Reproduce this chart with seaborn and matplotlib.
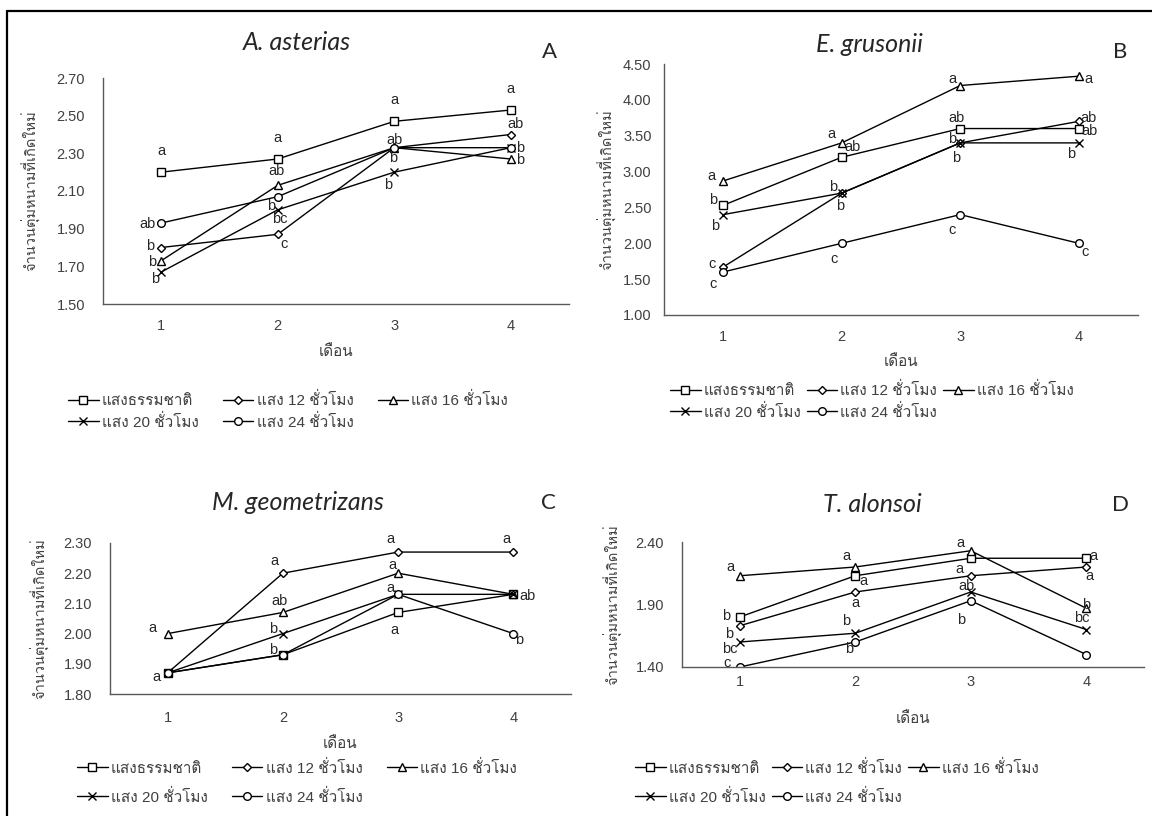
import matplotlib
matplotlib.use('Agg')
import matplotlib.pyplot as plt
from matplotlib import font_manager
from matplotlib.ft2font import FT2Font
from matplotlib.lines import Line2D
import pandas as pd
import seaborn as sns

months = [1, 2, 3, 4]
treatments = ['แสงธรรมชาติ', 'แสง 12 ชั่วโมง', 'แสง 16 ชั่วโมง', 'แสง 20 ชั่วโมง', 'แสง 24 ชั่วโมง']
species = ['A. asterias', 'E. grusonii', 'M. geometrizans', 'T. alonsoi']
panel_tags = ['A', 'B', 'C', 'D']
y_label = 'จำนวนตุ่มหนามที่เกิดใหม่'
x_label = 'เดือน'

# A. asterias
asterias_nat = [2.20, 2.27, 2.47, 2.53]
asterias_12h = [1.80, 1.87, 2.33, 2.40]
asterias_16h = [1.73, 2.13, 2.33, 2.27]
asterias_20h = [1.67, 2.00, 2.20, 2.33]
asterias_24h = [1.93, 2.07, 2.33, 2.33]
asterias_letters = [['a', 'a', 'a', 'a'], ['b', 'c', 'ab', 'ab'], ['b', 'ab', 'b', 'b'],
                    ['b', 'b', 'b', ''], ['ab', 'bc', '', 'b']]

# E. grusonii
grusonii_nat = [2.53, 3.20, 3.60, 3.60]
grusonii_12h = [1.67, 2.70, 3.40, 3.70]
grusonii_16h = [2.87, 3.40, 4.20, 4.33]
grusonii_20h = [2.40, 2.70, 3.40, 3.40]
grusonii_24h = [1.60, 2.00, 2.40, 2.00]
grusonii_letters = [['b', 'ab', 'ab', 'ab'], ['c', 'b', 'b', 'ab'], ['a', 'a', 'a', 'a'],
                    ['b', 'b', 'b', 'b'], ['c', 'c', 'c', 'c']]

# M. geometrizans
geometrizans_nat = [1.87, 1.93, 2.07, 2.13]
geometrizans_12h = [1.87, 2.20, 2.27, 2.27]
geometrizans_16h = [2.00, 2.07, 2.20, 2.13]
geometrizans_20h = [1.87, 2.00, 2.13, 2.13]
geometrizans_24h = [1.87, 1.93, 2.13, 2.00]
geometrizans_letters = [['a', 'b', 'a', ''], ['', 'a', 'a', 'a'], ['a', 'ab', 'a', ''],
                        ['', 'b', '', 'ab'], ['', '', 'a', 'b']]

# T. alonsoi
alonsoi_nat = [1.80, 2.13, 2.27, 2.27]
alonsoi_12h = [1.73, 2.00, 2.13, 2.20]
alonsoi_16h = [2.13, 2.20, 2.33, 1.87]
alonsoi_20h = [1.60, 1.67, 2.00, 1.70]
alonsoi_24h = [1.40, 1.60, 1.93, 1.50]
alonsoi_letters = [['b', 'a', '', 'a'], ['b', 'a', 'a', 'a'], ['a', 'a', 'a', 'b'],
                   ['bc', 'b', 'ab', 'bc'], ['c', 'b', 'b', '']]

panels = [
    ([asterias_nat, asterias_12h, asterias_16h, asterias_20h, asterias_24h], asterias_letters),
    ([grusonii_nat, grusonii_12h, grusonii_16h, grusonii_20h, grusonii_24h], grusonii_letters),
    ([geometrizans_nat, geometrizans_12h, geometrizans_16h, geometrizans_20h, geometrizans_24h], geometrizans_letters),
    ([alonsoi_nat, alonsoi_12h, alonsoi_16h, alonsoi_20h, alonsoi_24h], alonsoi_letters),
]

# ---- layout (pixels on a 1152x816 canvas) ----
W, H = 1152, 816
boxes = [(103, 78, 569, 304), (664, 64, 1138, 315), (110, 543, 571, 694), (682, 542, 1144, 667)]
ylims = [(1.5, 2.7, 0.2), (1.0, 4.5, 0.5), (1.8, 2.3, 0.1), (1.4, 2.4, 0.5)]
title_pos = [(297, 42), (869, 45), (298, 503), (872, 505)]
tag_pos = [(549, 52), (1120, 52), (548, 503), (1120, 505)]
xlabel_y = [352, 362, 744, 719]
ylabel_x = [31, 607, 40, 613]
xtick_pad = [11, 11, 12, 6]
ytick_pad = [9, 5, 9, 9]
legend_pos = [(68, 411), (670, 401), (77, 782), (635, 782)]
legend_gap = [0.35, 0.35, 0.85, 0.85]
legend_colsp = [1.6, 0.4, 1.6, 0.4]

# letter offsets in pixels (dx, dy), same layout as the letter tables
offsets = [
    [[(0, 21)] * 4, [(-11, 2), (6, -10), (0, 8), (5, 11)], [(-9, -1), (-1, 14), (-1, -10), (9, -1)],
     [(-6, -7), (-7, 4), (-6, -13), (0, 0)], [(-14, -1), (2, -22), (0, 0), (9, 0)]],
    [[(-10, 5), (11, 10), (-4, 11), (11, -2)], [(-11, 3), (-2, -13), (-8, 4), (10, 3)],
     [(-12, 5), (-10, 9), (-8, 7), (10, -3)], [(-8, -11), (-9, 6), (-4, -15), (-8, -11)],
     [(-10, -12), (-8, -16), (-8, -15), (6, -9)]],
    [[(-11, -4), (-10, 5), (-4, -18), (0, 0)], [(0, 0), (-8, 12), (-8, 13), (-7, 13)],
     [(-15, 6), (-3, 11), (-6, 8), (0, 0)], [(0, 0), (-10, 5), (0, 0), (14, -2)],
     [(0, 0), (0, 0), (-8, 6), (6, -6)]],
    [[(-14, 1), (8, -5), (0, 0), (7, 2)], [(-11, -8), (0, -11), (-11, 7), (3, -9)],
     [(-9, 9), (-9, 11), (-10, 8), (0, 3)], [(-10, -7), (-9, 12), (-4, 6), (-4, 11)],
     [(-13, 4), (-6, -7), (-10, -19), (0, 0)]],
]

markers = ['s', 'D', '^', 'x', 'o']
msizes = [5.5, 4, 5.5, 6, 5.5]

sns.set_style('white')

# pick a family that can draw Thai
thai_font = 'DejaVu Sans'
for f in font_manager.fontManager.ttflist:
    try:
        if ord('ม') in FT2Font(f.fname).get_charmap():
            thai_font = f.name
            break
    except Exception:
        continue
plt.rcParams['font.family'] = ['Liberation Sans', thai_font, 'DejaVu Sans']
plt.rcParams['axes.unicode_minus'] = False


def fx(x):
    return x / W


def fy(y):
    return 1 - y / H


fig = plt.figure(figsize=(W / 100, H / 100), dpi=100)
axis_grey = '#595959'

for i, (series, letters) in enumerate(panels):
    l, t, r, b = boxes[i]
    ax = fig.add_axes([fx(l), fy(b), fx(r - l), (b - t) / H])
    for vals, mk, ms in zip(series, markers, msizes):
        df = pd.DataFrame({'month': months, 'value': vals})
        sns.lineplot(data=df, x='month', y='value', marker=mk, markersize=ms, color='black',
                     linewidth=1.0, markerfacecolor='white', markeredgecolor='black',
                     markeredgewidth=1.0, errorbar=None, ax=ax)

    for s_vals, s_letters, s_offs in zip(series, letters, offsets[i]):
        for m, v, txt, off in zip(months, s_vals, s_letters, s_offs):
            if txt:
                ax.annotate(txt, (m, v), xytext=off, textcoords='offset pixels',
                            ha='center', va='center', fontsize=10.5)

    lo, hi, step = ylims[i]
    ax.set_xlim(0.5, 4.5)
    ax.set_ylim(lo, hi)
    n = int(round((hi - lo) / step)) + 1
    ax.set_yticks([lo + k * step for k in range(n)])
    ax.yaxis.set_major_formatter(plt.FormatStrFormatter('%.2f'))
    ax.set_xticks(months)
    for side in ['top', 'right']:
        ax.spines[side].set_visible(False)
    for side in ['left', 'bottom']:
        ax.spines[side].set_color(axis_grey)
        ax.spines[side].set_linewidth(1.0)
    ax.tick_params(axis='x', length=0, pad=xtick_pad[i], labelsize=10.5, labelcolor='#404040')
    ax.tick_params(axis='y', direction='inout' if i == 3 else 'out', length=8 if i == 3 else 4,
                   width=1.0, color=axis_grey, pad=ytick_pad[i], labelsize=10.5, labelcolor='#404040')
    ax.set_xlabel(x_label, fontsize=11, color='#404040')
    ax.set_ylabel(y_label, fontsize=10.5, color='#404040')
    ax.xaxis.set_label_coords(fx((l + r) / 2), fy(xlabel_y[i]), transform=fig.transFigure)
    ax.yaxis.set_label_coords(fx(ylabel_x[i]), fy((t + b) / 2), transform=fig.transFigure)
    ax.xaxis.label.set_va('center')
    ax.yaxis.label.set_va('center')

    fig.text(fx(title_pos[i][0]), fy(title_pos[i][1]), species[i], ha='center', va='center',
             fontsize=18, style='italic', family=['Lato', 'DejaVu Sans'])
    fig.text(fx(tag_pos[i][0]), fy(tag_pos[i][1]), panel_tags[i], ha='center', va='center',
             fontsize=16, family=['Lato', 'DejaVu Sans'])

    handles = [Line2D([], [], color='black', lw=1.0, marker=mk, markersize=ms,
                      markerfacecolor='white', markeredgecolor='black')
               for mk, ms in zip(markers, msizes)]
    order = [0, 3, 1, 4, 2]
    fig.legend([handles[k] for k in order], [treatments[k] for k in order], ncol=3,
               loc='center left', bbox_to_anchor=(fx(legend_pos[i][0]), fy(legend_pos[i][1])),
               frameon=False, fontsize=11, handlelength=2.0, handletextpad=0.2,
               columnspacing=legend_colsp[i], labelspacing=legend_gap[i],
               borderpad=0, borderaxespad=0, labelcolor='#404040')

# outer frame (left and top edges visible in the source)
fig.add_artist(Line2D([fx(7), fx(7)], [fy(11), 0], color='black', lw=1.6, transform=fig.transFigure))
fig.add_artist(Line2D([fx(7), 1], [fy(11), fy(11)], color='black', lw=1.6, transform=fig.transFigure))

fig.savefig('out.png', dpi=100)
